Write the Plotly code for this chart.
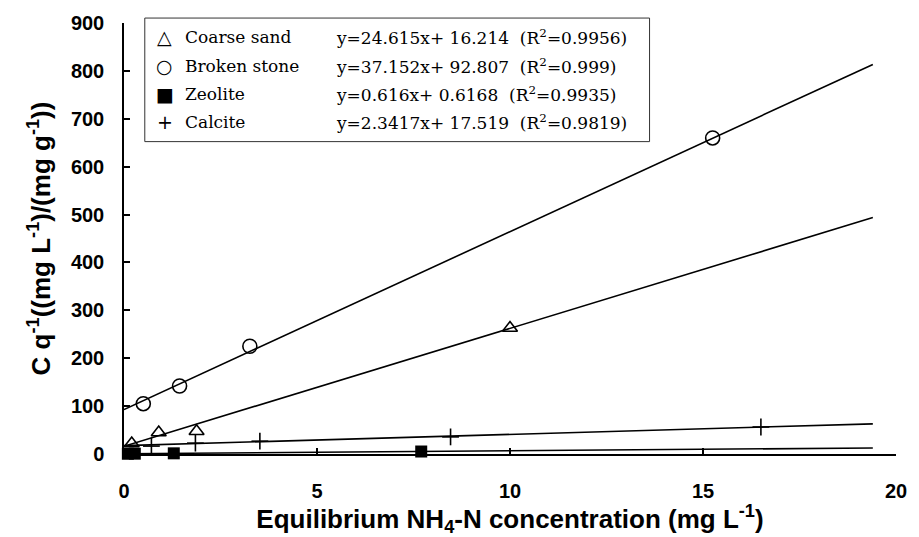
import plotly.graph_objects as go

# Measured isotherm points (Ce vs Ce/qe)
coarse_x = [0.2, 0.9, 1.88, 10.0]
coarse_y = [22, 45, 47.5, 263]
broken_x = [0.5, 1.44, 3.26, 15.25]
broken_y = [105, 142, 225, 660]
zeolite_x = [0.1, 0.28, 1.29, 7.7]
zeolite_y = [0.5, 0.7, 1.4, 5.2]
calcite_x = [0.71, 1.85, 3.52, 8.46, 16.5]
calcite_y = [16.5, 22.7, 26.8, 35.7, 56.4]

# Linear fits y = a*x + b
names = ["Coarse sand", "Broken stone", "Zeolite", "Calcite"]
slopes = [24.615, 37.152, 0.616, 2.3417]
intercepts = [16.214, 92.807, 0.6168, 17.519]
r2 = ["0.9956", "0.999", "0.9935", "0.9819"]
slope_txt = ["24.615", "37.152", "0.616", "2.3417"]
icpt_txt = ["16.214", "92.807", "0.6168", "17.519"]
glyphs = ["\u25b3", "\u25cb", "\u25a0", "+"]
fit_x = [0, 19.4]

x_ticks = [0, 5, 10, 15, 20]
y_ticks = list(range(0, 1000, 100))

W, H = 919, 537
L, R, T, B = 124, 15, 18, 83
pw, ph = W - L - R, H - T - B


def px(x):
    return (x - L) / pw


def py(y):
    return (H - B - y) / ph


fig = go.Figure()

for a, b in zip(slopes, intercepts):
    fig.add_trace(go.Scatter(
        x=fit_x, y=[a * v + b for v in fit_x], mode="lines",
        line=dict(color="black", width=1.6), cliponaxis=False,
        showlegend=False, hoverinfo="skip"))

point_sets = [
    (coarse_x, coarse_y, dict(symbol="triangle-up-open", size=13,
                              color="black", line=dict(width=1.6))),
    (broken_x, broken_y, dict(symbol="circle-open", size=14,
                              color="black", line=dict(width=1.6))),
    (zeolite_x, zeolite_y, dict(symbol="square", size=12, color="black",
                                line=dict(width=0))),
    (calcite_x, calcite_y, dict(symbol="line-ns-open", size=12,
                                color="black", line=dict(width=1.6))),
]
for xs, ys, mk in point_sets:
    fig.add_trace(go.Scatter(x=xs, y=ys, mode="markers", marker=mk,
                             cliponaxis=False, showlegend=False))
# calcite cross: horizontal bar
fig.add_trace(go.Scatter(x=calcite_x, y=calcite_y, mode="markers",
                         marker=dict(symbol="line-ew-open", size=12,
                                     color="black", line=dict(width=1.6)),
                         cliponaxis=False, showlegend=False))

# Legend box with symbols, names and fitted equations
fig.add_shape(type="rect", xref="paper", yref="paper",
              x0=px(145), x1=px(655), y0=py(138), y1=py(13),
              line=dict(color="#333", width=1), fillcolor="white", layer="below")
row_y = [32, 61, 90, 118]
serif = dict(family="DejaVu Serif", size=17, color="black")
for i in range(4):
    fig.add_annotation(xref="paper", yref="paper", x=px(165), y=py(row_y[i]),
                       text=glyphs[i], showarrow=False,
                       font=dict(family="DejaVu Sans", size=19, color="black"),
                       xanchor="center", yanchor="middle")
    fig.add_annotation(xref="paper", yref="paper", x=px(184), y=py(row_y[i]),
                       text=names[i], showarrow=False, font=serif,
                       xanchor="left", yanchor="middle")
    eq = (f"y={slope_txt[i]}x+ {icpt_txt[i]}  (R<sup>2</sup>={r2[i]})")
    fig.add_annotation(xref="paper", yref="paper", x=px(336), y=py(row_y[i]),
                       text=eq, showarrow=False, font=serif,
                       xanchor="left", yanchor="middle")

tick_font = dict(family="Liberation Sans", size=20, color="black", weight="bold")
title_font = dict(family="Liberation Sans", size=26, color="black", weight="bold")

fig.update_layout(
    width=W, height=H,
    margin=dict(l=L, r=R, t=T, b=B),
    paper_bgcolor="white", plot_bgcolor="white",
    showlegend=False,
    xaxis=dict(range=[0, 20], tickvals=x_ticks, ticks="inside", ticklen=6,
               tickwidth=1.5, tickcolor="black", showline=True,
               linecolor="black", linewidth=1.5, showgrid=False,
               zeroline=False, tickfont=tick_font, ticklabelstandoff=18,
               title=dict(text="Equilibrium NH<sub>4</sub>-N concentration (mg L<sup>-1</sup>)",
                          font=title_font, standoff=3)),
    yaxis=dict(range=[0, 900], tickvals=y_ticks, ticks="inside", ticklen=6,
               tickwidth=1.5, tickcolor="black", showline=True,
               linecolor="black", linewidth=1.5, showgrid=False,
               zeroline=False, tickfont=tick_font, ticklabelstandoff=14,
               title=dict(text="C q<sup>-1</sup>((mg L<sup>-1</sup>)/(mg g<sup>-1</sup>))",
                          font=title_font, standoff=13)),
)

fig.write_html("out.html")
